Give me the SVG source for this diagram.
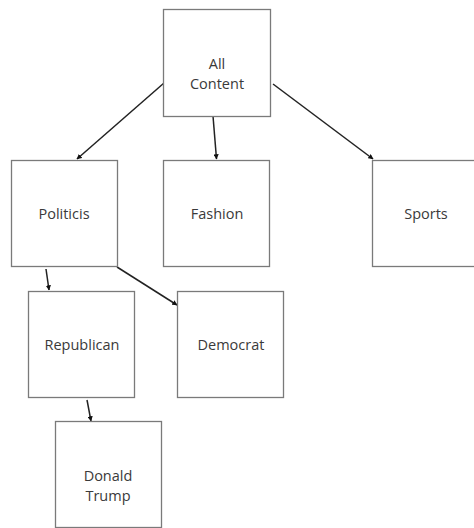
<svg xmlns="http://www.w3.org/2000/svg" width="474" height="528" viewBox="0 0 474 528">
<style>
.box{fill:#fff;stroke:#7a7a7a;stroke-width:1.3}
.lbl{font-family:"Open Sans","Noto Sans",sans-serif;font-size:14.5px;fill:#3a3a3a;text-anchor:middle}
.edge{stroke:#222;stroke-width:1.5;fill:none;marker-end:url(#ah)}
</style>
<defs>
<marker id="ah" viewBox="0 0 10 10" refX="9" refY="5" markerWidth="3.5" markerHeight="3.5" orient="auto" markerUnits="strokeWidth">
<path d="M0,0 L10,5 L0,10 z" fill="#111"/>
</marker>
</defs>
<rect width="474" height="528" fill="#fff"/>
<g id="connectors">
<line class="edge" x1="164" y1="83" x2="77" y2="159"/>
<line class="edge" x1="213" y1="116" x2="216.5" y2="159"/>
<line class="edge" x1="273" y1="84" x2="373" y2="159"/>
<line class="edge" x1="46" y1="269" x2="49" y2="290"/>
<line class="edge" x1="117" y1="267" x2="177" y2="305"/>
<line class="edge" x1="87" y1="400" x2="91" y2="421"/>
</g>
<g id="all-content">
<rect class="box" x="163.5" y="9.5" width="107" height="107"/>
<text class="lbl" x="217" y="69">All</text>
<text class="lbl" x="217" y="89">Content</text>
</g>
<g id="politicis">
<rect class="box" x="11.5" y="160.5" width="106" height="106"/>
<text class="lbl" x="64" y="219">Politicis</text>
</g>
<g id="fashion">
<rect class="box" x="163.5" y="160.5" width="106" height="106"/>
<text class="lbl" x="217" y="219">Fashion</text>
</g>
<g id="sports">
<rect class="box" x="372.5" y="160.5" width="107" height="106"/>
<text class="lbl" x="426" y="219">Sports</text>
</g>
<g id="republican">
<rect class="box" x="28.5" y="291.5" width="106" height="106"/>
<text class="lbl" x="82" y="350">Republican</text>
</g>
<g id="democrat">
<rect class="box" x="177.5" y="291.5" width="106" height="106"/>
<text class="lbl" x="231" y="350">Democrat</text>
</g>
<g id="donald-trump">
<rect class="box" x="55.5" y="421.5" width="106" height="106"/>
<text class="lbl" x="108" y="481">Donald</text>
<text class="lbl" x="108" y="501">Trump</text>
</g>
</svg>
